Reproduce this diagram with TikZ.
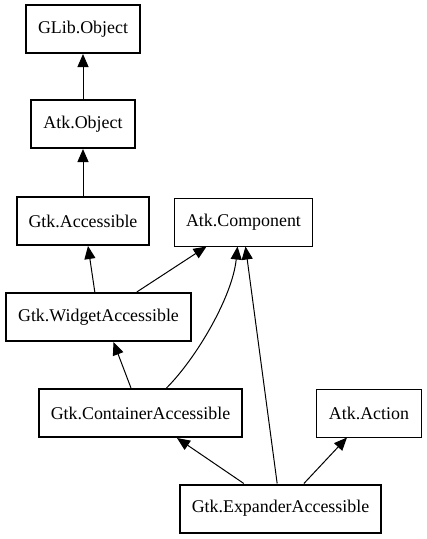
\documentclass[tikz,border=0pt]{standalone}
\usepackage{fontspec}
\setmainfont{Liberation Serif}
\usetikzlibrary{arrows.meta}
\tikzset{cl/.style={draw,line width=2pt,inner xsep=12pt,minimum height=48pt,font=\fontsize{17.9}{20}\selectfont}}
\tikzset{ic/.style={draw,line width=1pt,inner xsep=12pt,minimum height=48pt,font=\fontsize{17.9}{20}\selectfont}}
\tikzset{inh/.style={-{Triangle[length=13pt,width=11pt]},line width=1pt}}

\begin{document}
\begin{tikzpicture}[x=1pt,y=-1pt]
        \useasboundingbox (0,0) rectangle (427,539);
        \node[cl] (glib) at (83,29) {GLib.Object};
        \node[cl] (atkobj) at (83,124) {Atk.Object}
          edge [inh] (glib);
        \node[cl] (gtkacc) at (83,221) {Gtk.Accessible}
          edge [inh] (atkobj);
        \node[ic] (atkcomp) at (243.5,222) {Atk.Component};
        \node[cl] (widget) at (98.5,317) {Gtk.WidgetAccessible}
          edge [inh] ([xshift=5pt]gtkacc.south)
          edge [inh] ([xshift=-37pt]atkcomp.south);
        \node[cl] (container) at (140.5,413) {Gtk.ContainerAccessible}
          edge [inh] ([xshift=15pt]widget.south);
        \node[ic] (action) at (369,413) {Atk.Action};
        \node[cl] (expander) at (280.5,508.5) {Gtk.ExpanderAccessible}
          edge [inh] ([xshift=36.5pt]container.south)
          edge [inh] ([xshift=2pt]atkcomp.south)
          edge [inh] ([xshift=-22pt]action.south);
        % curved edge to the interface
        \draw[inh] ([xshift=26pt]container.north) .. controls +(30,-30) and +(-5,50) .. ([xshift=-6pt]atkcomp.south);
      \end{tikzpicture}
\end{document}
